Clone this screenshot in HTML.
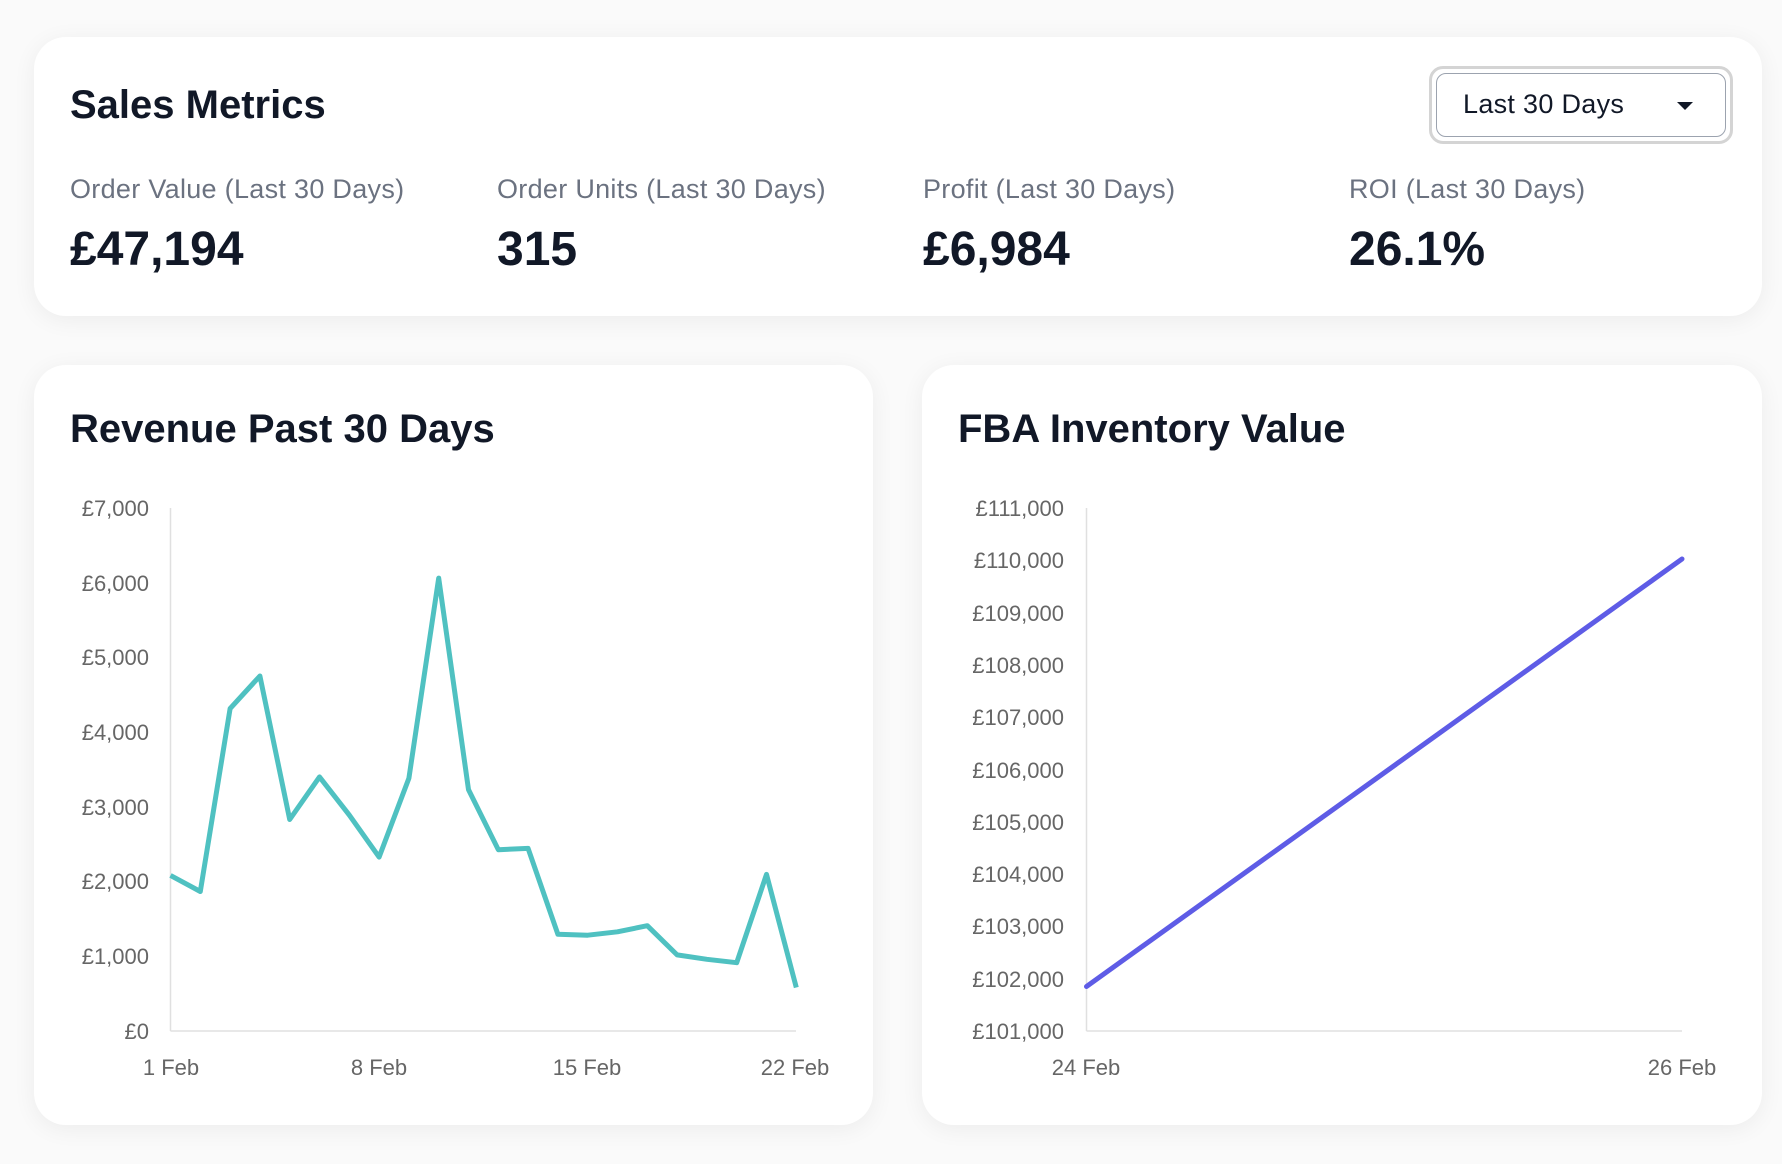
<!DOCTYPE html>
<html><head><meta charset="utf-8"><style>
html,body{margin:0;padding:0;width:1782px;height:1164px;background:#fafafa;font-family:"Liberation Sans",sans-serif;overflow:hidden}
.card{position:absolute;background:#fff;border-radius:32px;box-shadow:0 4px 24px rgba(0,0,0,0.06)}
.t{position:absolute;white-space:nowrap}
.h{font-weight:bold;font-size:40px;color:#111827}
.lab{font-size:27px;color:#6b7280;letter-spacing:0.3px}
.val{font-size:48px;font-weight:bold;color:#111827}
</style></head><body>
<div class="card" style="left:34px;top:37px;width:1728px;height:279px"></div>
<div class="t h" style="left:70px;top:83px">Sales Metrics</div>
<div style="position:absolute;left:1429px;top:66px;width:304px;height:78px;border:3px solid #d4d4d4;border-radius:14px;box-sizing:border-box;padding:4px;">
 <div style="width:100%;height:100%;border:1.5px solid #9ca3af;border-radius:10px;box-sizing:border-box;position:relative">
  <div class="t" style="left:26px;top:15px;font-size:27px;color:#111827;letter-spacing:0.3px">Last 30 Days</div>
  <div style="position:absolute;left:240px;top:28px;width:0;height:0;border-left:8px solid transparent;border-right:8px solid transparent;border-top:8px solid #111827"></div>
 </div>
</div>
<div class="t lab" style="left:70px;top:174px">Order Value (Last 30 Days)</div>
<div class="t lab" style="left:497px;top:174px">Order Units (Last 30 Days)</div>
<div class="t lab" style="left:923px;top:174px">Profit (Last 30 Days)</div>
<div class="t lab" style="left:1349px;top:174px">ROI (Last 30 Days)</div>
<div class="t val" style="left:70px;top:222px">£47,194</div>
<div class="t val" style="left:497px;top:222px">315</div>
<div class="t val" style="left:923px;top:222px">£6,984</div>
<div class="t val" style="left:1349px;top:222px">26.1%</div>

<div class="card" style="left:34px;top:365px;width:839px;height:760px"></div>
<div class="card" style="left:922px;top:365px;width:840px;height:760px"></div>
<div class="t h" style="left:70px;top:407px">Revenue Past 30 Days</div>
<div class="t h" style="left:958px;top:407px">FBA Inventory Value</div>

<svg width="1782" height="1164" style="position:absolute;left:0;top:0" font-family="Liberation Sans, sans-serif" font-size="22" fill="#666">
<g stroke="#e0e0e0" stroke-width="1.5">
<line x1="170.5" y1="508" x2="170.5" y2="1031"/><line x1="170.5" y1="1031" x2="796" y2="1031"/>
<line x1="1086.5" y1="508" x2="1086.5" y2="1031"/><line x1="1086.5" y1="1031" x2="1682" y2="1031"/>
</g>
<g text-anchor="end">
<text x="149" y="516">£7,000</text><text x="149" y="591">£6,000</text><text x="149" y="665">£5,000</text><text x="149" y="740">£4,000</text><text x="149" y="815">£3,000</text><text x="149" y="889">£2,000</text><text x="149" y="964">£1,000</text><text x="149" y="1039">£0</text>
<text x="1064" y="516">£111,000</text><text x="1064" y="568">£110,000</text><text x="1064" y="621">£109,000</text><text x="1064" y="673">£108,000</text><text x="1064" y="725">£107,000</text><text x="1064" y="778">£106,000</text><text x="1064" y="830">£105,000</text><text x="1064" y="882">£104,000</text><text x="1064" y="934">£103,000</text><text x="1064" y="987">£102,000</text><text x="1064" y="1039">£101,000</text>
</g>
<g text-anchor="middle">
<text x="171" y="1075">1 Feb</text><text x="379" y="1075">8 Feb</text><text x="587" y="1075">15 Feb</text><text x="795" y="1075">22 Feb</text>
<text x="1086" y="1075">24 Feb</text><text x="1682" y="1075">26 Feb</text>
</g>
<polyline fill="none" stroke="#4fc1c1" stroke-width="5" stroke-linejoin="round" points="170.5,875.4 200.3,891.5 230.1,708.6 259.9,676.0 289.7,819.5 319.5,776.9 349.3,815.1 379.1,857.1 408.9,778.2 438.7,578.1 468.5,789.6 498.3,849.7 528.1,848.4 557.9,934.3 587.7,935.2 617.5,931.8 647.3,925.7 677.1,954.9 706.9,959.3 736.7,962.7 766.5,874.4 796.3,987.5"/>
<line x1="1086.5" y1="986.5" x2="1682" y2="559" stroke="#5e5ce6" stroke-width="5" stroke-linecap="round"/>
</svg>
</body></html>
